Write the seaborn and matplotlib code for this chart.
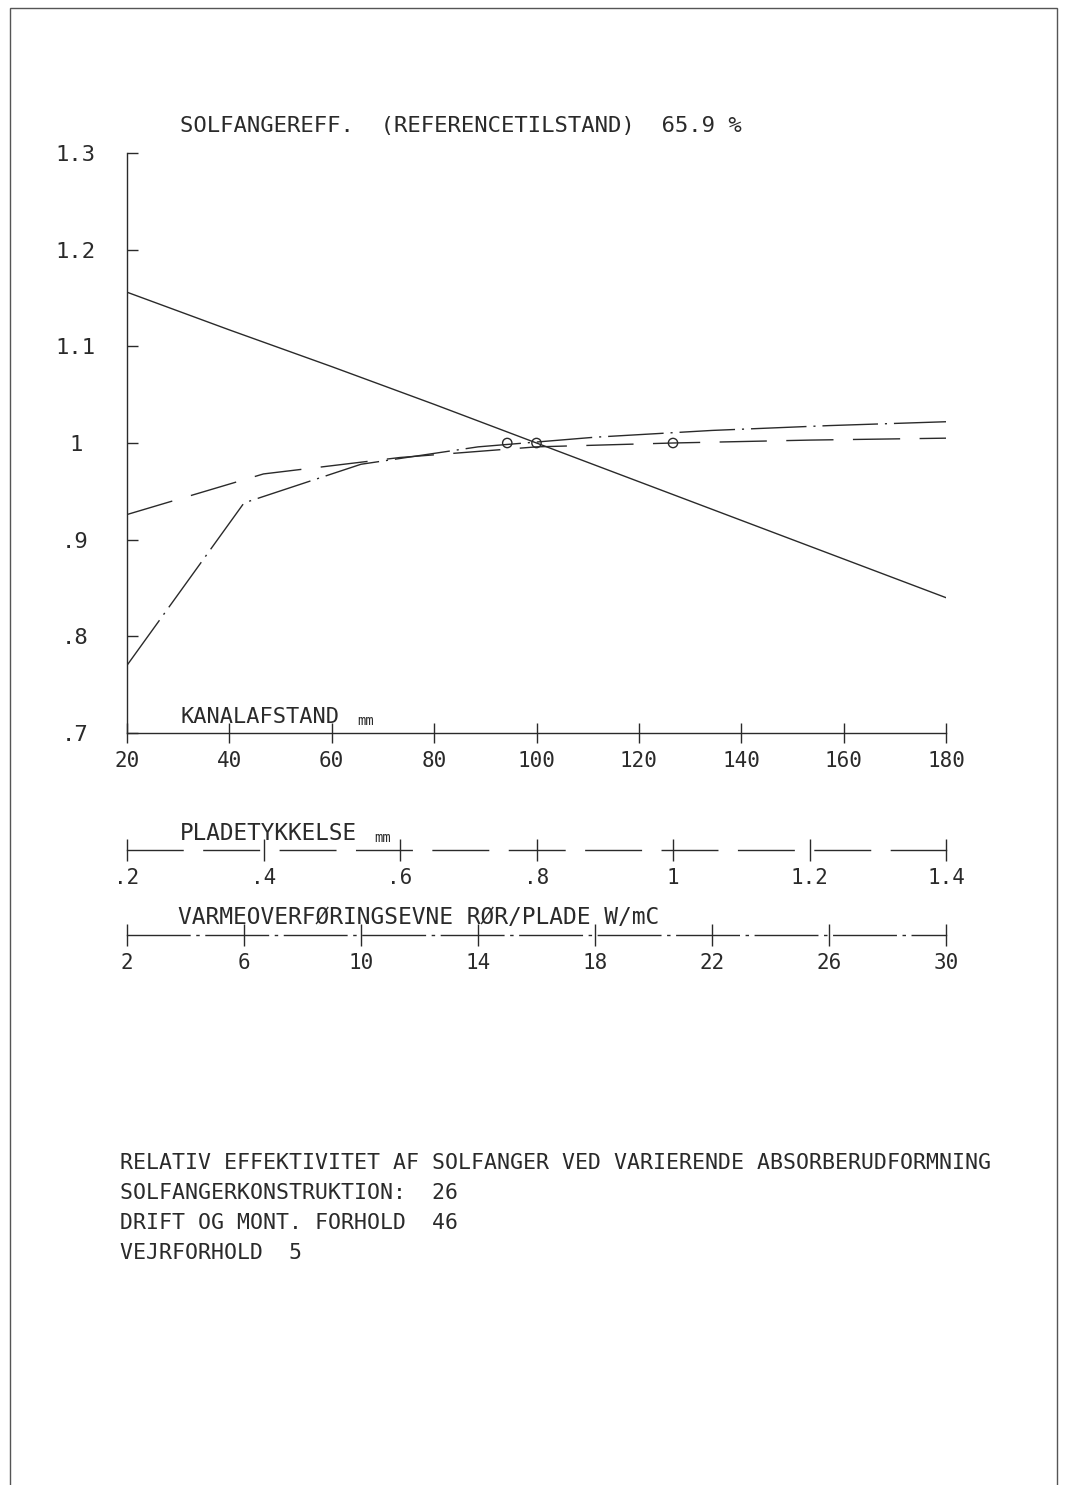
import matplotlib
matplotlib.use("Agg")
import matplotlib.pyplot as plt
import numpy as np
import pandas as pd
import seaborn as sns
from matplotlib.patches import Rectangle

# relative efficiency vs. channel distance (solid)
kanal_mm = [20, 40, 60, 80, 100, 120, 140, 160, 180]
kanal_eff = [1.156, 1.117, 1.079, 1.040, 1.000, 0.960, 0.920, 0.880, 0.840]

# relative efficiency vs. plate thickness (dashed)
plade_mm = [0.2, 0.4, 0.6, 0.8, 1.0, 1.2, 1.4]
plade_eff = [0.926, 0.968, 0.985, 0.996, 1.000, 1.003, 1.005]

# relative efficiency vs. heat transfer pipe/plate (dash-dot)
varme_wmc = [2, 6, 10, 14, 18, 22, 26, 30]
varme_eff = [0.770, 0.938, 0.978, 0.996, 1.006, 1.013, 1.018, 1.022]

# reference state markers
ref_x = {"kanal": 100, "plade": 1.0, "varme": 15}
ref_eff = 1.0

yticks = [0.7, 0.8, 0.9, 1.0, 1.1, 1.2, 1.3]
ytick_labels = [".7", ".8", ".9", "1", "1.1", "1.2", "1.3"]
kanal_ticks = [20, 40, 60, 80, 100, 120, 140, 160, 180]
kanal_labels = ["20", "40", "60", "80", "100", "120", "140", "160", "180"]
plade_ticks = [0.2, 0.4, 0.6, 0.8, 1.0, 1.2, 1.4]
plade_labels = [".2", ".4", ".6", ".8", "1", "1.2", "1.4"]
varme_ticks = [2, 6, 10, 14, 18, 22, 26, 30]
varme_labels = ["2", "6", "10", "14", "18", "22", "26", "30"]

title = "SOLFANGEREFF.  (REFERENCETILSTAND)  65.9 %"
footer = ["RELATIV EFFEKTIVITET AF SOLFANGER VED VARIERENDE ABSORBERUDFORMNING",
          "SOLFANGERKONSTRUKTION:  26",
          "DRIFT OG MONT. FORHOLD  46",
          "VEJRFORHOLD  5"]

sns.set_theme(style="white")
plt.rcParams["font.family"] = ["DejaVu Sans Mono", "DejaVu Sans"]
ink = "#2a2a2a"

W, H = 1067, 1485
fig = plt.figure(figsize=(W / 100, H / 100), dpi=100)


def fx(px):
    return px / W


def fy(py):
    return 1 - py / H


left, right = 127, 946
ax = fig.add_axes([fx(left), fy(733), fx(right - left), (733 - 153) / H])
ax.set_facecolor("none")

df_k = pd.DataFrame({"x": kanal_mm, "eff": kanal_eff})
sns.lineplot(data=df_k, x="x", y="eff", ax=ax, color=ink, lw=1.0)
sns.scatterplot(x=[ref_x["kanal"]], y=[ref_eff], ax=ax, s=45,
                facecolor="none", edgecolor=ink, linewidth=1.0, zorder=5)
ax.set_xlim(20, 180)
ax.set_ylim(0.7, 1.3)
ax.set_xticks(kanal_ticks)
ax.set_xticklabels(kanal_labels)
ax.set_yticks(yticks)
ax.set_yticklabels(ytick_labels)
for lab in ax.get_yticklabels():
    lab.set_horizontalalignment("center")
ax.tick_params(axis="y", left=True, direction="in", length=8, width=1, color=ink,
               pad=37, labelsize=16, labelcolor=ink)
ax.tick_params(axis="x", bottom=True, direction="inout", length=14, width=1, color=ink,
               pad=6, labelsize=15, labelcolor=ink)
ax.set_xlabel("")
ax.set_ylabel("")
sns.despine(ax=ax, top=True, right=True)
for s in ["left", "bottom"]:
    ax.spines[s].set_color(ink)
    ax.spines[s].set_linewidth(1.0)

# overlay axes for the two other parameters, sharing the plot area
ax_p = ax.twiny()
df_p = pd.DataFrame({"x": plade_mm, "eff": plade_eff})
sns.lineplot(data=df_p, x="x", y="eff", ax=ax_p, color=ink, lw=1.0)
ax_p.lines[-1].set_dashes((34, 14))
sns.scatterplot(x=[ref_x["plade"]], y=[ref_eff], ax=ax_p, s=45,
                facecolor="none", edgecolor=ink, linewidth=1.0, zorder=5)
ax_p.set_xlim(0.2, 1.4)

ax_v = ax.twiny()
df_v = pd.DataFrame({"x": varme_wmc, "eff": varme_eff})
sns.lineplot(data=df_v, x="x", y="eff", ax=ax_v, color=ink, lw=1.0)
ax_v.lines[-1].set_dashes((40, 5, 1.5, 5))
sns.scatterplot(x=[ref_x["varme"]], y=[ref_eff], ax=ax_v, s=45,
                facecolor="none", edgecolor=ink, linewidth=1.0, zorder=5)
ax_v.set_xlim(2, 30)

for a in (ax_p, ax_v):
    a.set_ylim(0.7, 1.3)
    a.set_xticks([])
    a.set_xlabel("")
    a.set_ylabel("")
    for s in a.spines.values():
        s.set_visible(False)


def extra_axis(py, lim, ticks, labels, dashes):
    a = fig.add_axes([fx(left), fy(py), fx(right - left), 1e-4])
    a.set_facecolor("none")
    a.set_xlim(*lim)
    a.set_yticks([])
    a.set_xticks(ticks)
    a.set_xticklabels(labels)
    a.tick_params(axis="x", bottom=True, direction="inout", length=16, width=1,
                  color=ink, pad=5, labelsize=15, labelcolor=ink)
    for name, s in a.spines.items():
        s.set_visible(name == "bottom")
    a.spines["bottom"].set_color(ink)
    a.spines["bottom"].set_linewidth(1.0)
    a.spines["bottom"].set_linestyle((0, dashes))
    return a


extra_axis(850, (0.2, 1.4), plade_ticks, plade_labels, (40, 15))
extra_axis(935, (2, 30), varme_ticks, varme_labels, (45, 5, 1.5, 5))

# texts
fig.text(fx(180), fy(126), title, fontsize=16, color=ink, va="center", ha="left")
fig.text(fx(180), fy(717), "KANALAFSTAND", fontsize=15.8, color=ink, va="center")
fig.text(fx(357), fy(721), "mm", fontsize=10, color=ink, va="center")
fig.text(fx(180), fy(834), "PLADETYKKELSE", fontsize=16.3, color=ink, va="center")
fig.text(fx(374), fy(838), "mm", fontsize=10, color=ink, va="center")
fig.text(fx(178), fy(918), "VARMEOVERFØRINGSEVNE RØR/PLADE W/mC", fontsize=16.5,
         color=ink, va="center")

for i, line in enumerate(footer):
    fig.text(fx(120), fy(1163 + 30 * i), line, fontsize=15.5, color=ink, va="center")

# page frame
fig.patches.append(Rectangle((fx(10), -0.01), fx(1047), fy(8) + 0.01,
                             transform=fig.transFigure, fill=False,
                             edgecolor="#555555", lw=1.0))

fig.savefig("out.png", dpi=100)
